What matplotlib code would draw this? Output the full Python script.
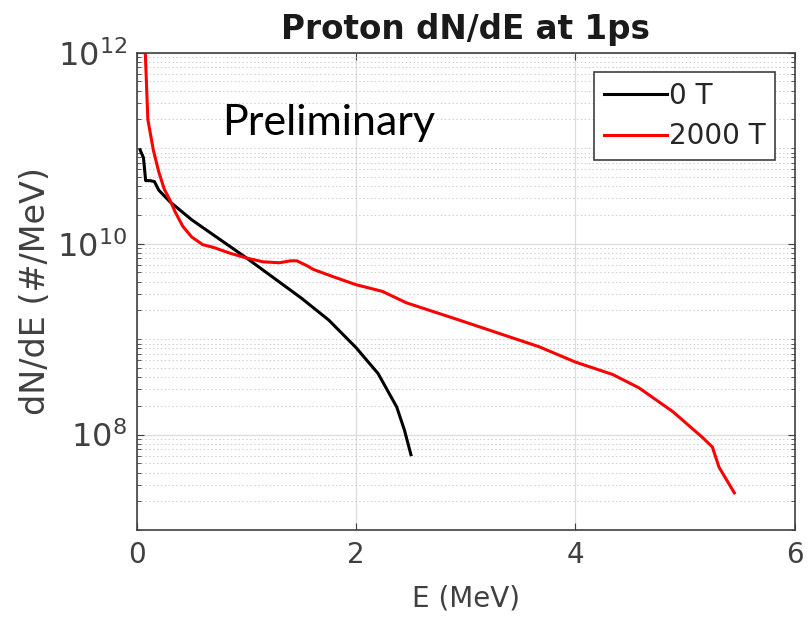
import matplotlib
matplotlib.use("Agg")
import matplotlib.pyplot as plt
import matplotlib.ticker as mticker
import numpy as np

# 0 T spectrum (E in MeV, log10 of dN/dE)
e_0t = [0.03, 0.06, 0.08, 0.12, 0.16, 0.2, 0.3, 0.5, 0.75, 1.0, 1.25, 1.5,
        1.75, 2.0, 2.2, 2.37, 2.44, 2.5]
log_0t = [10.98, 10.9, 10.66, 10.66, 10.65, 10.56, 10.44, 10.25, 10.05, 9.85,
          9.64, 9.43, 9.2, 8.91, 8.64, 8.29, 8.05, 7.79]

# 2000 T spectrum
e_2000t = [0.075, 0.09, 0.10, 0.15, 0.2, 0.25, 0.3, 0.35, 0.42, 0.5, 0.6, 0.7,
           0.85, 1.0, 1.15, 1.3, 1.4, 1.46, 1.55, 1.61, 1.8, 2.0, 2.24, 2.46,
           2.94, 3.07, 3.67, 4.0, 4.34, 4.58, 4.89, 5.16, 5.25, 5.31, 5.45]
log_2000t = [12.05, 11.6, 11.3, 10.98, 10.75, 10.57, 10.46, 10.33, 10.18,
             10.07, 9.99, 9.96, 9.9, 9.85, 9.81, 9.8, 9.82, 9.82, 9.77, 9.73,
             9.65, 9.57, 9.5, 9.38, 9.2, 9.15, 8.92, 8.76, 8.63, 8.49, 8.24,
             7.97, 7.87, 7.66, 7.39]

plt.rcParams['font.family'] = ['DejaVu Sans']
plt.rcParams['mathtext.fontset'] = 'dejavusans'

fig = plt.figure(figsize=(8.1, 6.2), dpi=100)
ax = fig.add_axes([0.169, 0.145, 0.812, 0.77])

ax.plot(e_0t, 10 ** np.array(log_0t), color='black', lw=2.2, label='0 T')
ax.plot(e_2000t, 10 ** np.array(log_2000t), color='red', lw=2.2, label='2000 T')

ax.set_yscale('log')
ax.set_xlim(0, 6)
ax.set_ylim(1e7, 1e12)
ax.set_xticks([0, 2, 4, 6])
ax.yaxis.set_major_locator(mticker.LogLocator(base=100, numticks=10))
ax.yaxis.set_minor_locator(mticker.LogLocator(base=10, subs=np.arange(1, 10), numticks=20))
ax.yaxis.set_minor_formatter(mticker.NullFormatter())

ax.grid(True, which='major', color='#dcdcdc', lw=0.9, ls='-')
ax.grid(True, which='minor', axis='y', color='#cccccc', lw=0.7, ls=(0, (1.5, 2.5)))
ax.set_axisbelow(True)

ax.tick_params(direction='in', which='both', top=True, right=True,
               colors='#404040', length=5, pad=9)
ax.tick_params(axis='x', labelsize=20, pad=8)
ax.tick_params(axis='y', labelsize=23, pad=7)
ax.tick_params(which='minor', length=3)
for s in ax.spines.values():
    s.set_color('#404040')
    s.set_linewidth(1.2)

ax.set_xlabel('E (MeV)', fontsize=20, color='#404040', labelpad=11)
ax.set_ylabel('dN/dE (#/MeV)', fontsize=24, color='#404040', labelpad=4)
ax.set_title('Proton dN/dE at 1ps', fontsize=23.5, fontweight='bold', pad=10,
             color='#1a1a1a')

ax.text(0.13, 0.853, 'Preliminary', transform=ax.transAxes, fontsize=31,
        family='Lato', va='center', ha='left', color='black')

leg = ax.legend(loc='upper right', fontsize=20, fancybox=False, framealpha=1,
                edgecolor='#404040', handlelength=2.3, borderaxespad=0.7,
                handletextpad=0.05, labelspacing=0.45, borderpad=0.35)
leg.get_frame().set_linewidth(1.2)
for t in leg.get_texts():
    t.set_color('#262626')

fig.savefig('out.png', dpi=100)
